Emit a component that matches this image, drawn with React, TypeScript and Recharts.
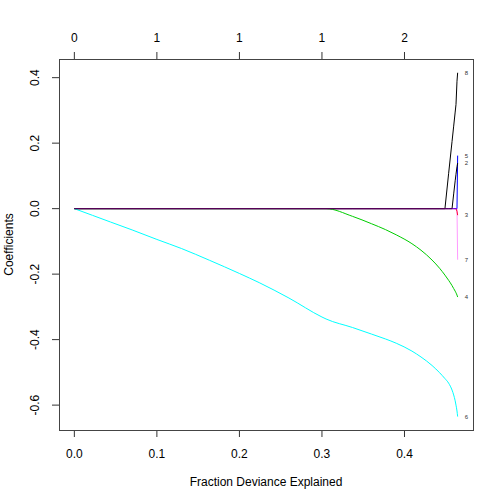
import { LabelList, Line, LineChart, XAxis, YAxis } from 'recharts'

// fraction of deviance explained along the lambda path
const fdev = [
  0, 0.022, 0.044, 0.07, 0.1, 0.13, 0.164, 0.2, 0.224, 0.26, 0.3, 0.305, 0.337, 0.36, 0.377, 0.39,
  0.409, 0.42, 0.4334, 0.4425, 0.449, 0.4535, 0.4576, 0.4596, 0.4614, 0.4624, 0.4636, 0.4644,
]

const coef6 = [
  0, -0.0205, -0.041, -0.065, -0.094, -0.122, -0.158, -0.198, -0.226, -0.273, -0.331, -0.337,
  -0.363, -0.383, -0.398, -0.411, -0.435, -0.453, -0.479, -0.501, -0.519, -0.533, -0.554, -0.569,
  -0.587, -0.6, -0.618, -0.635,
]
const coef4 = [
  0, 0, 0, 0, 0, 0, 0, 0, 0, 0, 0, 0, -0.0235, -0.046, -0.064, -0.08, -0.107, -0.127, -0.157,
  -0.182, -0.203, -0.219, -0.235, -0.244, -0.252, -0.257, -0.264, -0.27,
]
const coef8 = [
  0, 0, 0, 0, 0, 0, 0, 0, 0, 0, 0, 0, 0, 0, 0, 0, 0, 0, 0, 0, 0, 0.108, 0.205, 0.252, 0.295,
  0.318, 0.389, 0.415,
]
const coef2 = [
  0, 0, 0, 0, 0, 0, 0, 0, 0, 0, 0, 0, 0, 0, 0, 0, 0, 0, 0, 0, 0, 0, 0, 0.045, 0.085, 0.105,
  0.128, 0.139,
]
const coef5 = [
  0, 0, 0, 0, 0, 0, 0, 0, 0, 0, 0, 0, 0, 0, 0, 0, 0, 0, 0, 0, 0, 0, 0, 0, 0, 0, 0, 0.162,
]
const coef3 = [
  0, 0, 0, 0, 0, 0, 0, 0, 0, 0, 0, 0, 0, 0, 0, 0, 0, 0, 0, 0, 0, 0, 0, 0, 0, 0, -0.008, -0.02,
]
const coef7 = [
  0, 0, 0, 0, 0, 0, 0, 0, 0, 0, 0, 0, 0, 0, 0, 0, 0, 0, 0, 0, 0, 0, 0, 0, 0, 0, 0, -0.156,
]

const xTicks = [0, 0.1, 0.2, 0.3, 0.4]
const dfLabels = ['0', '1', '1', '1', '2']
const yTicks = [-0.6, -0.4, -0.2, 0, 0.2, 0.4]

const data = fdev.map((f, i) => ({
  f,
  v6: coef6[i],
  v4: coef4[i],
  v8: coef8[i],
  v2: coef2[i],
  v5: coef5[i],
  v3: coef3[i],
  v7: coef7[i],
}))

const series = [
  { key: 'v3', name: '3', color: '#FF0000', opacity: 1, curve: 'linear' },
  { key: 'v5', name: '5', color: '#0000FF', opacity: 1, curve: 'linear' },
  { key: 'v4', name: '4', color: '#00CD00', opacity: 1, curve: 'monotone' },
  { key: 'v6', name: '6', color: '#00FFFF', opacity: 1, curve: 'monotone' },
  { key: 'v2', name: '2', color: '#000000', opacity: 1, curve: 'linear' },
  { key: 'v8', name: '8', color: '#000000', opacity: 1, curve: 'linear' },
  { key: 'v7', name: '7', color: '#FF00FF', opacity: 0.4, curve: 'linear' },
]

const font = '"Liberation Sans", Arial, sans-serif'

const endLabel = (name: string) => (props: any) =>
  props.index === fdev.length - 1 ? (
    <text x={props.x + 7} y={props.y} dy="0.35em" fontSize={6} fill="#333" fontFamily={font}>
      {name}
    </text>
  ) : null

const YTick = ({ x, y, payload }: any) => (
  <text
    x={x}
    y={y}
    transform={`rotate(-90 ${x} ${y})`}
    textAnchor="middle"
    fontSize={12}
    fill="#000"
    fontFamily={font}
  >
    {payload.value.toFixed(1)}
  </text>
)

export default function App() {
  return (
    <div style={{ position: 'fixed', top: 0, left: 0, width: 504, height: 504, background: '#fff', fontFamily: font }}>
      <LineChart width={504} height={504} data={data} margin={{ top: 29, right: 31, bottom: 24, left: 9 }}>
        <XAxis
          dataKey="f"
          type="number"
          domain={[-0.0186, 0.483]}
          allowDataOverflow
          ticks={xTicks}
          tickFormatter={(v) => v.toFixed(1)}
          height={50}
          axisLine={false}
          tickSize={7}
          tickMargin={12}
          tickLine={{ stroke: '#333' }}
          tick={{ fill: '#000', fontSize: 12 }}
          label={{
            content: ({ viewBox }: any) => (
              <text x={viewBox.x + viewBox.width / 2} y={485.5} textAnchor="middle" fontSize={12} fill="#000" fontFamily={font}>
                Fraction Deviance Explained
              </text>
            ),
          }}
        />
        <XAxis
          xAxisId="top"
          dataKey="f"
          orientation="top"
          type="number"
          domain={[-0.0186, 0.483]}
          allowDataOverflow
          ticks={xTicks}
          tickFormatter={(v, i) => dfLabels[i]}
          height={30}
          axisLine={false}
          tickSize={7}
          tickMargin={10}
          tickLine={{ stroke: '#333' }}
          tick={{ fill: '#000', fontSize: 12 }}
        />
        <YAxis
          type="number"
          domain={[-0.676, 0.457]}
          allowDataOverflow
          ticks={yTicks}
          width={50}
          axisLine={false}
          tickSize={7}
          tickMargin={12.5}
          tickLine={{ stroke: '#333' }}
          tick={<YTick />}
          label={{
            content: ({ viewBox }: any) => {
              const cy = viewBox.y + viewBox.height / 2
              return (
                <text x={13} y={cy} transform={`rotate(-90 13 ${cy})`} textAnchor="middle" fontSize={12} fill="#000" fontFamily={font}>
                  Coefficients
                </text>
              )
            },
          }}
        />
        {series.map((s) => (
          <Line
            key={s.key}
            type={s.curve as any}
            dataKey={s.key}
            stroke={s.color}
            strokeOpacity={s.opacity}
            strokeWidth={1}
            dot={false}
            activeDot={false}
            isAnimationActive={false}
          >
            <LabelList dataKey={s.key} content={endLabel(s.name)} />
          </Line>
        ))}
      </LineChart>
      <div
        style={{
          position: 'absolute',
          left: 59,
          top: 59,
          width: 415,
          height: 372,
          boxSizing: 'border-box',
          border: '1px solid #444',
          pointerEvents: 'none',
        }}
      />
    </div>
  )
}
